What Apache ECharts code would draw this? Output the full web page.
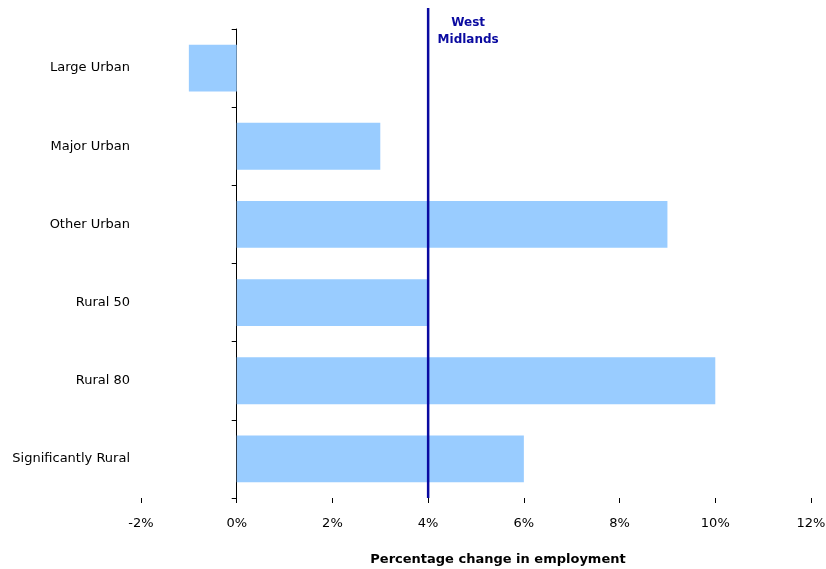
<!DOCTYPE html>
<html>
<head>
<meta charset="utf-8">
<style>
  html, body { margin: 0; padding: 0; background: #fff; }
  #chart { width: 826px; height: 569px; }
</style>
<script src="https://cdn.jsdelivr.net/npm/echarts@6/dist/echarts.min.js"></script>
</head>
<body>
<div id="chart"></div>
<script>
// Area types, listed top to bottom
const categories = ['Large Urban', 'Major Urban', 'Other Urban', 'Rural 50', 'Rural 80', 'Significantly Rural'];
// Percentage change in employment for each area type
const changeValues = [-1, 3, 9, 4, 10, 6];
// Regional reference value
const regionName = 'West\nMidlands';
const regionValue = 4;
// Value axis range
const axisMin = -2;
const axisMax = 12;
const axisStep = 2;

const font = 'DejaVu Sans';
const chart = echarts.init(document.getElementById('chart'));

chart.setOption({
  animation: false,
  backgroundColor: '#ffffff',
  textStyle: { fontFamily: font },
  grid: [
    { left: 141, right: 15, top: 29, bottom: 71, containLabel: false, outerBoundsMode: 'none' },
    { left: 141, right: 15, top: 8, bottom: 71, containLabel: false, outerBoundsMode: 'none' }
  ],
  xAxis: [
    {
      type: 'value',
      gridIndex: 0,
      min: axisMin,
      max: axisMax,
      interval: axisStep,
      name: 'Percentage change in employment',
      nameLocation: 'middle',
      nameGap: 55,
      nameTextStyle: { fontFamily: font, fontSize: 13, fontWeight: 'bold', color: '#000', padding: [0, 0, 0, 44] },
      axisLine: { onZero: false, lineStyle: { color: '#000', width: 1 } },
      axisTick: { show: true, length: 5, lineStyle: { color: '#000' } },
      axisLabel: { formatter: '{value}%', margin: 19, fontFamily: font, fontSize: 13, color: '#000' },
      splitLine: { show: false }
    },
    {
      type: 'value',
      gridIndex: 1,
      min: axisMin,
      max: axisMax,
      show: false
    }
  ],
  yAxis: [
    {
      type: 'category',
      gridIndex: 0,
      data: categories,
      inverse: true,
      axisLine: { onZero: true, lineStyle: { color: '#000', width: 1 } },
      axisTick: { show: true, length: 5, lineStyle: { color: '#000' } },
      axisLabel: { margin: 11, fontFamily: font, fontSize: 13, color: '#000' },
      splitLine: { show: false }
    },
    {
      type: 'value',
      gridIndex: 1,
      min: 0,
      max: 1,
      show: false
    }
  ],
  series: [
    {
      type: 'bar',
      xAxisIndex: 0,
      yAxisIndex: 0,
      data: changeValues,
      barCategoryGap: '40%',
      itemStyle: { color: '#99CCFF' },
      z: 1
    },
    {
      type: 'line',
      xAxisIndex: 1,
      yAxisIndex: 1,
      data: [[regionValue, 0], [regionValue, 1]],
      symbol: 'circle',
      symbolSize: 0.1,
      lineStyle: { color: '#0A0AA0', width: 2.5 },
      itemStyle: { color: '#0A0AA0' },
      label: { show: false },
      z: 5
    },
    {
      type: 'scatter',
      xAxisIndex: 1,
      yAxisIndex: 1,
      data: [[regionValue, 1]],
      symbolSize: 0.1,
      itemStyle: { opacity: 1 },
      label: {
        show: true,
        position: 'bottom',
        distance: 6,
        offset: [40, 0],
        formatter: regionName,
        align: 'center',
        fontFamily: font,
        fontSize: 12,
        fontWeight: 'bold',
        lineHeight: 17,
        color: '#0A0AA0'
      },
      z: 6
    }
  ]
});
</script>
</body>
</html>
